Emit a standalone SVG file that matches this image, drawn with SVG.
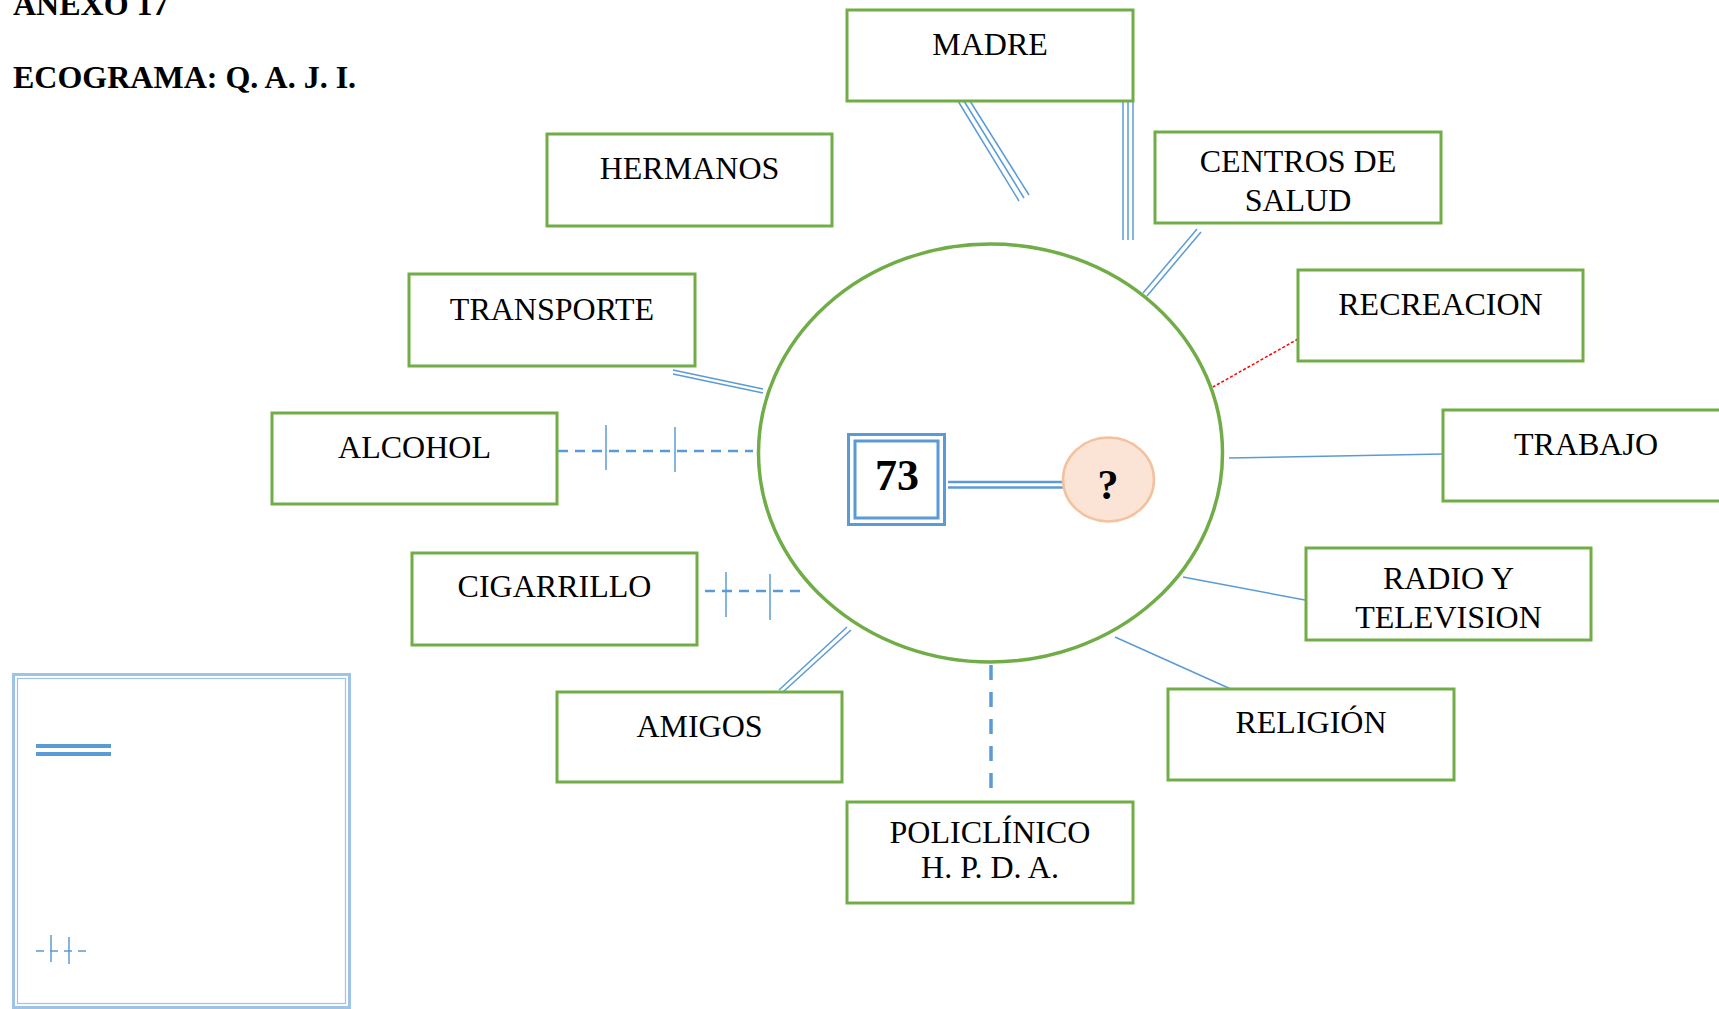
<svg xmlns="http://www.w3.org/2000/svg" width="1719" height="1009" viewBox="0 0 1719 1009">
<style>
.box{fill:#fff;stroke:#70AD47;stroke-width:3}
.lbl{font-family:"Liberation Serif","Times New Roman",serif;font-size:32px;fill:#000;text-anchor:middle}
.ttl{font-family:"Liberation Serif","Times New Roman",serif;font-size:32px;font-weight:bold;fill:#000}
.big{font-family:"Liberation Serif","Times New Roman",serif;font-weight:bold;fill:#000;text-anchor:middle}
.ln{stroke:#5B9BD5;stroke-width:1.5;fill:none}
.dsh{stroke:#5B9BD5;stroke-width:2.5;stroke-dasharray:10 7;fill:none}
</style>
<rect width="1719" height="1009" fill="#fff"/>
<text class="ttl" x="13" y="15">ANEXO 17</text>
<text class="ttl" x="13" y="88">ECOGRAMA: Q. A. J. I.</text>

<g id="connectors">
  <line class="ln" x1="958" y1="101" x2="1019" y2="201"/>
  <line class="ln" x1="964" y1="101" x2="1024" y2="198"/>
  <line class="ln" x1="970" y1="101" x2="1029" y2="195"/>
  <line class="ln" x1="1123" y1="101" x2="1123" y2="240"/>
  <line class="ln" x1="1128" y1="101" x2="1128" y2="240"/>
  <line class="ln" x1="1133" y1="101" x2="1133" y2="240"/>
  <line class="ln" x1="1197" y1="229" x2="1143" y2="293"/>
  <line class="ln" x1="1201" y1="232" x2="1147" y2="296"/>
  <line x1="1298" y1="339" x2="1213" y2="387" stroke="#FF0000" stroke-width="1.5" stroke-dasharray="3 2"/>
  <line class="ln" x1="1229" y1="458" x2="1443" y2="454"/>
  <line class="ln" x1="1183" y1="577" x2="1305" y2="600"/>
  <line class="ln" x1="1115" y1="637" x2="1233" y2="690"/>
  <line x1="991" y1="665" x2="991" y2="800" stroke="#5B9BD5" stroke-width="3.5" stroke-dasharray="15 12"/>
  <line class="ln" x1="779" y1="690" x2="847" y2="627"/>
  <line class="ln" x1="783" y1="692" x2="851" y2="630"/>
  <line class="dsh" x1="705" y1="591" x2="805" y2="591"/>
  <line class="ln" x1="726" y1="572" x2="726" y2="617"/>
  <line class="ln" x1="770" y1="574" x2="770" y2="620"/>
  <line class="dsh" x1="558" y1="451" x2="753" y2="451"/>
  <line class="ln" x1="606" y1="425" x2="606" y2="470"/>
  <line class="ln" x1="675" y1="427" x2="675" y2="472"/>
  <line class="ln" x1="673" y1="370" x2="763" y2="389"/>
  <line class="ln" x1="673" y1="374" x2="763" y2="393"/>
  <line x1="948" y1="482" x2="1063" y2="482" stroke="#5B9BD5" stroke-width="2.5"/>
  <line x1="948" y1="487.5" x2="1063" y2="487.5" stroke="#5B9BD5" stroke-width="2.5"/>
</g>

<g id="entorno">
  <ellipse cx="990.5" cy="453" rx="232" ry="209" fill="none" stroke="#70AD47" stroke-width="3.5"/>
</g>

<g id="n73">
  <rect x="848.5" y="434.5" width="96" height="90" fill="#fff" stroke="#5B9BD5" stroke-width="3"/>
  <rect x="855" y="441" width="83" height="77" fill="none" stroke="#5B9BD5" stroke-width="3"/>
  <text class="big" x="897" y="490" style="font-size:44px">73</text>
</g>
<g id="nq">
  <ellipse cx="1108.5" cy="479.5" rx="45.5" ry="42" fill="#FBE3D5" stroke="#F4C19F" stroke-width="2.5"/>
  <text class="big" x="1108" y="499" style="font-size:42px">?</text>
</g>

<g id="madre"><rect class="box" x="847" y="10" width="286" height="91"/><text class="lbl" x="990" y="55">MADRE</text></g>
<g id="hermanos"><rect class="box" x="547" y="134" width="285" height="92"/><text class="lbl" x="689.5" y="179">HERMANOS</text></g>
<g id="centros"><rect class="box" x="1155" y="132" width="286" height="91"/><text class="lbl" x="1298" y="172">CENTROS DE</text><text class="lbl" x="1298" y="211">SALUD</text></g>
<g id="transporte"><rect class="box" x="409" y="274" width="286" height="92"/><text class="lbl" x="552" y="320">TRANSPORTE</text></g>
<g id="recreacion"><rect class="box" x="1298" y="270" width="285" height="91"/><text class="lbl" x="1440.5" y="315">RECREACION</text></g>
<g id="alcohol"><rect class="box" x="272" y="413" width="285" height="91"/><text class="lbl" x="414.5" y="458">ALCOHOL</text></g>
<g id="trabajo"><rect class="box" x="1443" y="410" width="290" height="91"/><text class="lbl" x="1586" y="455">TRABAJO</text></g>
<g id="radio"><rect class="box" x="1306" y="548" width="285" height="92"/><text class="lbl" x="1448.5" y="589">RADIO Y</text><text class="lbl" x="1448.5" y="628">TELEVISION</text></g>
<g id="cigarrillo"><rect class="box" x="412" y="553" width="285" height="92"/><text class="lbl" x="554.5" y="597">CIGARRILLO</text></g>
<g id="amigos"><rect class="box" x="557" y="692" width="285" height="90"/><text class="lbl" x="699.5" y="737">AMIGOS</text></g>
<g id="religion"><rect class="box" x="1168" y="689" width="286" height="91"/><text class="lbl" x="1311" y="733">RELIGIÓN</text></g>
<g id="policlinico"><rect class="box" x="847" y="802" width="286" height="101"/><text class="lbl" x="990" y="843">POLICLÍNICO</text><text class="lbl" x="990" y="878">H. P. D. A.</text></g>

<g id="leyenda">
  <rect x="13.5" y="674.5" width="336" height="333" fill="#fff" stroke="#9DC3E6" stroke-width="3"/>
  <rect x="17.5" y="678.5" width="328" height="325" fill="none" stroke="#9DC3E6" stroke-width="1.2"/>
  <line x1="36" y1="746" x2="111" y2="746" stroke="#5B9BD5" stroke-width="4"/>
  <line x1="36" y1="754" x2="111" y2="754" stroke="#5B9BD5" stroke-width="4"/>
  <line x1="36" y1="951" x2="89" y2="951" stroke="#5B9BD5" stroke-width="1.5" stroke-dasharray="8 6"/>
  <line x1="51" y1="935" x2="51" y2="962" stroke="#5B9BD5" stroke-width="1.5"/>
  <line x1="69" y1="937" x2="69" y2="964" stroke="#5B9BD5" stroke-width="1.5"/>
</g>
</svg>
